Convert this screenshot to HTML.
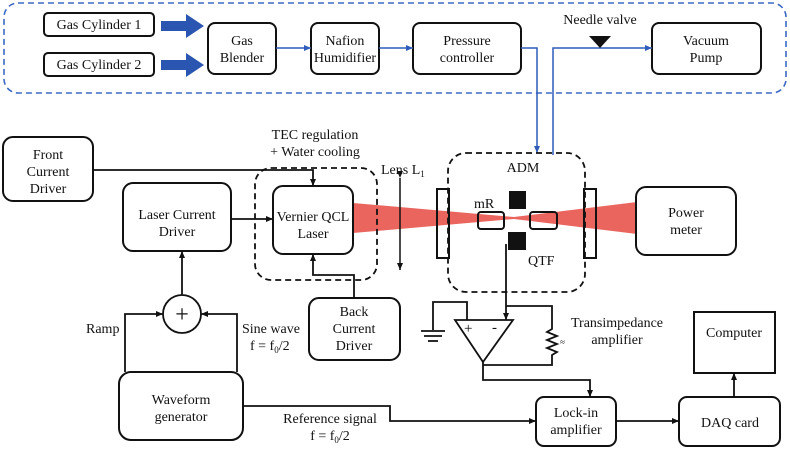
<!DOCTYPE html>
<html><head><meta charset="utf-8"><style>
html,body{margin:0;padding:0;background:#fff}
svg{display:block}
text{font-family:"Liberation Serif",serif;font-size:14px;fill:#111}
</style></head><body>
<svg width="790" height="449" viewBox="0 0 790 449" xmlns="http://www.w3.org/2000/svg">
<defs>
<marker id="ab" markerWidth="8" markerHeight="8" refX="7" refY="4" orient="auto" markerUnits="userSpaceOnUse"><path d="M0,1 L7,4 L0,7 Z" fill="#111"/></marker>
<marker id="au" markerWidth="8" markerHeight="8" refX="7" refY="4" orient="auto" markerUnits="userSpaceOnUse"><path d="M0,1 L7,4 L0,7 Z" fill="#2e5cb8"/></marker>
</defs>
<rect x="4" y="3" width="782" height="90" rx="14" fill="none" stroke="#3b68c4" stroke-width="1.6" stroke-dasharray="6,4"/>
<g fill="#fff" stroke="#111" stroke-width="2">
<rect x="44" y="13" width="110" height="23" rx="4"/>
<rect x="44" y="53" width="110" height="23" rx="4"/>
<rect x="208" y="23" width="68" height="51" rx="7"/>
<rect x="311" y="23" width="68" height="51" rx="7"/>
<rect x="413" y="23" width="108" height="51" rx="7"/>
<rect x="652" y="23" width="109" height="51" rx="7"/>
</g>
<text x="99" y="29" text-anchor="middle">Gas Cylinder 1</text>
<text x="99" y="69" text-anchor="middle">Gas Cylinder 2</text>
<text x="242" y="45" text-anchor="middle">Gas</text>
<text x="242" y="62" text-anchor="middle">Blender</text>
<text x="345" y="45" text-anchor="middle">Nafion</text>
<text x="345" y="62" text-anchor="middle">Humidifier</text>
<text x="467" y="45" text-anchor="middle">Pressure</text>
<text x="467" y="62" text-anchor="middle">controller</text>
<text x="706" y="45" text-anchor="middle">Vacuum</text>
<text x="706" y="62" text-anchor="middle">Pump</text>
<text x="600" y="24" text-anchor="middle">Needle valve</text>
<path d="M161,21 H186 V14 L204,26 L186,38 V31 H161 Z" fill="#2a55b0"/>
<path d="M161,60 H186 V53 L204,65 L186,77 V70 H161 Z" fill="#2a55b0"/>
<g stroke="#2e5cb8" stroke-width="1.5" fill="none">
<line x1="276" y1="48" x2="311" y2="48" marker-end="url(#au)"/>
<line x1="379" y1="48" x2="413" y2="48" marker-end="url(#au)"/>
<polyline points="521,48 537,48 537,153" marker-end="url(#au)"/>
<polyline points="553,155 553,48 652,48" marker-end="url(#au)"/>
</g>
<path d="M589,36 L611,36 L600,48 Z" fill="#111"/>
<path d="M353,203 L514,217 L514,219 L353,233 Z" fill="#e8544c" opacity="0.9"/>
<path d="M514,217 L637,202 L637,234 L514,219 Z" fill="#e8544c" opacity="0.9"/>
<g fill="#fff" stroke="#111" stroke-width="2">
<rect x="3" y="137" width="90" height="64" rx="10"/>
<rect x="123" y="183" width="108" height="68" rx="10"/>
<rect x="309" y="298" width="91" height="62" rx="10"/>
<rect x="119" y="372" width="124" height="68" rx="12"/>
<rect x="636" y="187" width="100" height="68" rx="10"/>
<rect x="536" y="397" width="80" height="49" rx="8"/>
<rect x="679" y="397" width="101" height="49" rx="8"/>
<rect x="694" y="312" width="81" height="61" fill="#fff"/>
</g>
<rect x="273" y="186" width="80" height="68" rx="10" fill="none" stroke="#111" stroke-width="2"/>
<rect x="255" y="168" width="122" height="112" rx="16" fill="none" stroke="#111" stroke-width="1.8" stroke-dasharray="6,4"/>
<rect x="448" y="153" width="137" height="139" rx="18" fill="none" stroke="#111" stroke-width="1.8" stroke-dasharray="6,4"/>
<text x="48" y="159" text-anchor="middle">Front</text>
<text x="48" y="176" text-anchor="middle">Current</text>
<text x="48" y="193" text-anchor="middle">Driver</text>
<text x="177" y="219" text-anchor="middle">Laser Current</text>
<text x="177" y="236" text-anchor="middle">Driver</text>
<text x="313" y="221" text-anchor="middle">Vernier QCL</text>
<text x="313" y="238" text-anchor="middle">Laser</text>
<text x="315" y="139" text-anchor="middle">TEC regulation</text>
<text x="315" y="156" text-anchor="middle">+ Water cooling</text>
<text x="354" y="316" text-anchor="middle">Back</text>
<text x="354" y="333" text-anchor="middle">Current</text>
<text x="354" y="350" text-anchor="middle">Driver</text>
<text x="181" y="404" text-anchor="middle">Waveform</text>
<text x="181" y="421" text-anchor="middle">generator</text>
<text x="686" y="217" text-anchor="middle">Power</text>
<text x="686" y="234" text-anchor="middle">meter</text>
<text x="576" y="417" text-anchor="middle">Lock-in</text>
<text x="576" y="434" text-anchor="middle">amplifier</text>
<text x="730" y="427" text-anchor="middle">DAQ card</text>
<text x="734" y="337" text-anchor="middle">Computer</text>
<text x="523" y="172" text-anchor="middle">ADM</text>
<text x="381" y="174">Lens L<tspan font-size="9" dy="3">1</tspan></text>
<text x="474" y="208">mR</text>
<text x="528" y="265">QTF</text>
<text x="86" y="333">Ramp</text>
<text x="242" y="333">Sine wave</text>
<text x="250" y="350">f = f<tspan font-size="9" dy="3">0</tspan><tspan dy="-3">/2</tspan></text>
<text x="330" y="423" text-anchor="middle">Reference signal</text>
<text x="330" y="440" text-anchor="middle">f = f<tspan font-size="9" dy="3">0</tspan><tspan dy="-3">/2</tspan></text>
<text x="617" y="327" text-anchor="middle">Transimpedance</text>
<text x="617" y="344" text-anchor="middle">amplifier</text>
<line x1="400" y1="178" x2="400" y2="270" stroke="#111" stroke-width="1.5" marker-start="url(#ab)" marker-end="url(#ab)"/>
<g fill="none" stroke="#111" stroke-width="2">
<rect x="437" y="189" width="12" height="69"/>
<rect x="584" y="189" width="12" height="69"/>
<rect x="478" y="212" width="26" height="17" rx="3"/>
<rect x="530" y="212" width="27" height="17" rx="3"/>
</g>
<rect x="509" y="191" width="17" height="18" fill="#111"/>
<rect x="508" y="232" width="18" height="18" fill="#111"/>
<g stroke="#111" stroke-width="1.8" fill="none">
<polyline points="93,170 313,170 313,186" marker-end="url(#ab)"/>
<line x1="231" y1="219" x2="273" y2="219" marker-end="url(#ab)"/>
<polyline points="354,298 354,275 313,275 313,254" marker-end="url(#ab)"/>
<line x1="182" y1="295" x2="182" y2="251" marker-end="url(#ab)"/>
<polyline points="125,372 125,314 163,314" marker-end="url(#ab)"/>
<polyline points="237,372 237,314 201,314" marker-end="url(#ab)"/>
<polyline points="243,406 390,406 390,421 536,421" marker-end="url(#ab)"/>
<line x1="616" y1="421" x2="679" y2="421" marker-end="url(#ab)"/>
<line x1="734" y1="397" x2="734" y2="373" marker-end="url(#ab)"/>
<polyline points="506,244 506,320" marker-end="url(#ab)"/>
<path d="M455,320 L513,320 L483,362 Z"/>
<polyline points="467,320 467,302 433,302 433,330"/>
<line x1="421" y1="331" x2="445" y2="331"/>
<line x1="424" y1="336" x2="442" y2="336"/>
<line x1="428" y1="341" x2="438" y2="341"/>
<polyline points="506,306 552,306 552,329 547,332 557,336 547,340 557,344 547,348 557,352 552,355 552,365 483,365"/>
<polyline points="483,362 483,380 590,380 590,397" marker-end="url(#ab)"/>
</g>
<circle cx="182" cy="314" r="19" fill="#fff" stroke="#111" stroke-width="1.8"/>
<text x="182" y="322" text-anchor="middle" style="font-size:24px">+</text>
<text x="464" y="333" style="font-size:15px">+</text>
<text x="492" y="332" style="font-size:15px">-</text>
<text x="560" y="345" style="font-size:9px">≈</text>
</svg>
</body></html>
